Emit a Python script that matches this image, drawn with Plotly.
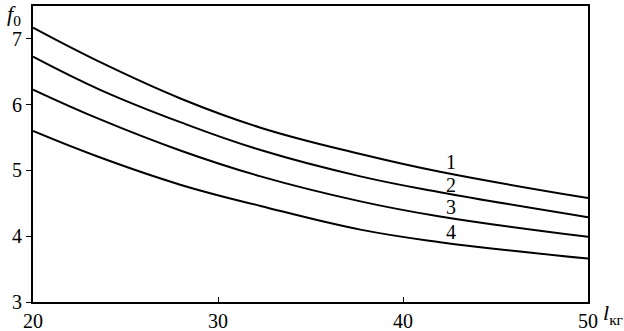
import plotly.graph_objects as go

x_vals = [20, 23.6, 28, 32.3, 37.7, 42, 50]
curve1 = [7.17, 6.65, 6.09, 5.65, 5.25, 4.98, 4.58]
curve2 = [6.73, 6.23, 5.73, 5.31, 4.91, 4.67, 4.29]
curve3 = [6.23, 5.78, 5.30, 4.91, 4.53, 4.30, 3.99]
curve4 = [5.60, 5.20, 4.78, 4.46, 4.10, 3.91, 3.66]
curves = [curve1, curve2, curve3, curve4]
curve_labels = ["1", "2", "3", "4"]
label_x = [42.6, 42.6, 42.6, 42.6]
label_y = [5.13, 4.78, 4.45, 4.06]
x_ticks = [20, 30, 40, 50]
y_ticks = [3, 4, 5, 6, 7]

FONT = "Liberation Serif, Times New Roman, serif"

fig = go.Figure()
for c in curves:
    fig.add_trace(go.Scatter(x=x_vals, y=c, mode="lines",
                             line=dict(color="black", width=2, shape="spline", smoothing=1.2),
                             showlegend=False, hoverinfo="skip"))

for lx, ly, t in zip(label_x, label_y, curve_labels):
    fig.add_annotation(x=lx, y=ly, text=t, showarrow=False,
                       font=dict(family=FONT, size=20, color="black"))

fig.add_annotation(xref="paper", yref="paper", x=-0.035, y=0.97, xanchor="center", yanchor="middle",
                   text="<i>f</i><sub>0</sub>", showarrow=False,
                   font=dict(family=FONT, size=22, color="black"))
fig.add_annotation(xref="paper", yref="paper", x=1.045, y=-0.04, xanchor="center", yanchor="middle",
                   text="<i>l</i><sub>кг</sub>", showarrow=False,
                   font=dict(family=FONT, size=22, color="black"))

fig.update_layout(
    width=624, height=331,
    margin=dict(l=33, r=36, t=6, b=29, autoexpand=False),
    paper_bgcolor="white", plot_bgcolor="white",
    font=dict(family=FONT, size=20, color="black"),
    xaxis=dict(range=[20, 50], tickvals=x_ticks, showgrid=False, zeroline=False,
               showline=True, linecolor="black", linewidth=2, mirror=True, automargin=False,
               ticks="inside", ticklen=5, tickwidth=1, tickcolor="black"),
    yaxis=dict(range=[3, 7.5], tickvals=y_ticks, showgrid=False, zeroline=False,
               showline=True, linecolor="black", linewidth=2, mirror=True, automargin=False,
               ticks="outside", ticklen=5, tickwidth=1, tickcolor="black"),
)

fig.write_html("out.html", config={"displayModeBar": False},
               post_script="document.body.style.margin='0';document.body.style.overflow='hidden';")
